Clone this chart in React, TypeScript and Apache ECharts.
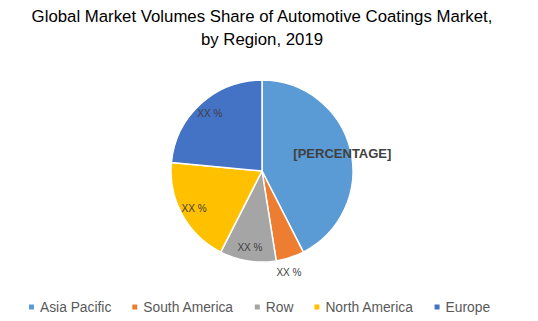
import React, { useEffect, useRef } from "react";
import * as echarts from "echarts";

const regions = ["Asia Pacific", "South America", "Row", "North America", "Europe"];
const shares = [42.5, 5, 10, 19, 23.5];
const sliceLabels = ["[PERCENTAGE]", "XX %", "XX %", "XX %", "XX %"];
const colors = ["#5B9BD5", "#ED7D31", "#A5A5A5", "#FFC000", "#4472C4"];
const titleLines = ["Global Market Volumes Share of Automotive Coatings Market,", "by Region, 2019"];

export default function App() {
  const ref = useRef<HTMLDivElement>(null);
  useEffect(() => {
    if (!ref.current) return;
    const chart = echarts.init(ref.current, undefined, { renderer: "svg" });
    const center = [262, 171];
    const R = 91;
    chart.setOption({
      animation: false,
      backgroundColor: "#ffffff",
      title: {
        text: titleLines.join("\n"),
        left: 257,
        textAlign: "center",
        top: 0,
        textStyle: {
          fontFamily: "Liberation Sans",
          fontSize: 16.8,
          fontWeight: "normal",
          color: "#000000",
          lineHeight: 23,
        },
      },
      legend: {
        bottom: 2,
        left: 22,
        icon: "rect",
        itemWidth: 7,
        itemHeight: 7,
        itemGap: 19,
        data: regions.map((n, i) => ({ name: n, itemStyle: { color: colors[i] } })),
        textStyle: { fontFamily: "Liberation Sans", fontSize: 13.8, color: "#595959" },
      },
      series: [
        {
          type: "pie",
          center,
          radius: R,
          startAngle: 90,
          clockwise: true,
          label: { show: false },
          labelLine: { show: false },
          itemStyle: { borderColor: "#ffffff", borderWidth: 1.5 },
          data: regions.map((n, i) => ({ name: n, value: shares[i], itemStyle: { color: colors[i] } })),
        },
        {
          type: "pie",
          center,
          radius: [58, R],
          startAngle: 90,
          clockwise: true,
          silent: true,
          legendHoverLink: false,
          labelLine: { show: false },
          itemStyle: { color: "rgba(0,0,0,0)", borderWidth: 0 },
          label: {
            show: true,
            position: "inside",
            fontFamily: "Liberation Sans",
            fontSize: 10,
            color: "#404040",
          },
          data: regions.map((n, i) => ({
            name: n,
            value: shares[i],
            itemStyle: { color: "rgba(0,0,0,0)" },
            label:
              i === 0
                ? { formatter: sliceLabels[i], fontSize: 13, fontWeight: "bold", offset: [5, 1] }
                : i === 1
                ? { formatter: sliceLabels[i], offset: [3, 28] }
                : { formatter: sliceLabels[i] },
          })),
        },
      ],
    });
    return () => chart.dispose();
  }, []);
  return <div ref={ref} style={{ position: "fixed", left: 0, top: 0, width: 538, height: 321 }} />;
}
